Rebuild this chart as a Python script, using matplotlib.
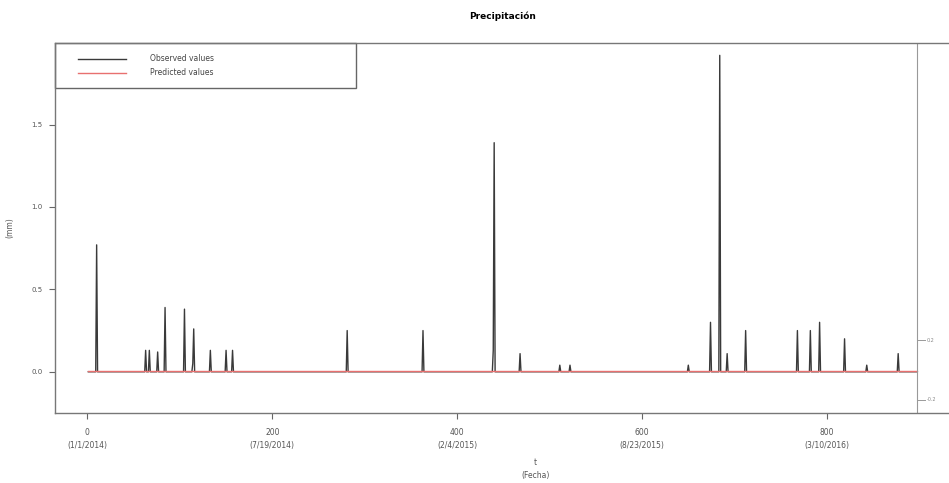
import numpy as np
import matplotlib.pyplot as plt
from matplotlib.patches import Rectangle

# day index of each rain event and its value (mm, scaled)
rain_days = [10, 63, 67, 76, 84, 105, 114, 115, 133, 150, 157, 281, 363,
             439, 440, 468, 511, 522, 650, 674, 684, 692, 712, 768, 782,
             792, 819, 843, 877]
rain_vals = [0.77, 0.13, 0.13, 0.12, 0.39, 0.38, 0.05, 0.26, 0.13, 0.13,
             0.13, 0.25, 0.25, 0.13, 1.39, 0.11, 0.04, 0.04, 0.04, 0.30,
             1.92, 0.11, 0.25, 0.25, 0.25, 0.30, 0.20, 0.04, 0.11]
n_days = 897

pred_days = [1, 897]
pred_vals = [0.005, 0.005]

xtick_pos = [0, 200, 400, 600, 800]
xtick_lab = ['0\n(1/1/2014)', '200\n(7/19/2014)', '400\n(2/4/2015)',
             '600\n(8/23/2015)', '800\n(3/10/2016)']
ytick_pos = [0.0, 0.5, 1.0, 1.5]
ytick_lab = ['0.0', '0.5', '1.0', '1.5']

days = np.arange(1, n_days + 1)
obs = np.zeros(n_days)
obs[np.array(rain_days) - 1] = rain_vals

obs_col = '#3a3a3a'
pred_col = '#e8706f'

fig = plt.figure(figsize=(9.49, 4.83), dpi=100)
ax = fig.add_axes([0.058, 0.145, 0.943, 0.766])

ax.plot(days, obs, color=obs_col, lw=1.0)
ax.plot(pred_days, pred_vals, color=pred_col, lw=1.0)

ax.set_xlim(-35, 933)
ax.set_ylim(-0.25, 1.995)
ax.set_xticks(xtick_pos)
ax.set_xticklabels(xtick_lab, fontsize=5.5, color='#555555', linespacing=1.5)
ax.set_yticks(ytick_pos)
ax.set_yticklabels(ytick_lab, fontsize=5, color='#555555')
ax.tick_params(direction='out', length=4, width=0.8, color='#666666')
ax.tick_params(axis='x', pad=7)
ax.tick_params(axis='y', pad=5)
for s in ax.spines.values():
    s.set_color('#777777')
    s.set_linewidth(1.0)

# second axis drawn at the end of the series
ax.axvline(n_days, color='#999999', lw=0.8)
for yv, lab in [(0.19, '0.2'), (-0.17, '-0.2')]:
    ax.plot([n_days, n_days + 9], [yv, yv], color='#999999', lw=0.7)
    ax.text(n_days + 11, yv, lab, fontsize=3.5, color='#888888', va='center')

ax.set_title('Precipitación', fontsize=6.5, fontweight='bold', pad=17)
ax.set_ylabel('(mm)', fontsize=5.5, color='#555555', labelpad=12)
fig.text(0.564, 0.029, 't\n(Fecha)', fontsize=5.5, color='#555555',
         ha='center', va='center', linespacing=1.5)

# legend box in the R style
ax.add_patch(Rectangle((0, 0.878), 0.336, 0.122, transform=ax.transAxes,
                       fill=False, edgecolor='#666666', lw=1.0, clip_on=False))
for yf, col, lab in [(0.957, obs_col, 'Observed values'),
                     (0.919, pred_col, 'Predicted values')]:
    ax.plot([0.026, 0.079], [yf, yf], color=col, lw=1.0, transform=ax.transAxes)
    ax.text(0.106, yf, lab, fontsize=5.5, color='#444444', va='center',
            transform=ax.transAxes)

fig.savefig('out.png', dpi=100)
